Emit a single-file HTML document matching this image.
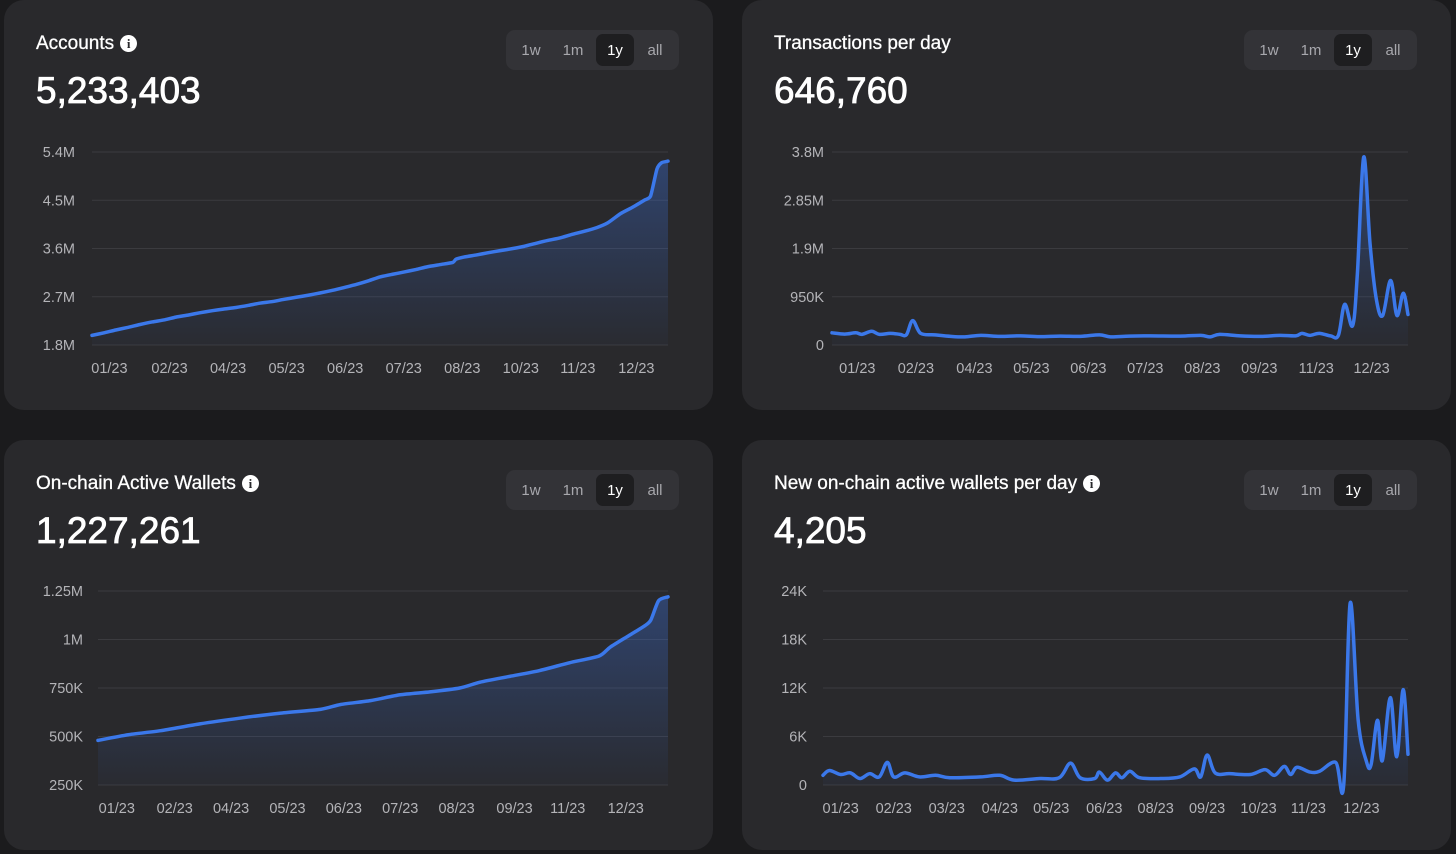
<!DOCTYPE html>
<html><head><meta charset="utf-8"><style>
body{margin:0;width:1456px;height:854px;background:#1b1b1d;font-family:"Liberation Sans",sans-serif;position:relative;overflow:hidden}
.card{position:absolute;width:709px;height:410px;background:#29292c;border-radius:20px}
.title{position:absolute;left:32px;top:33px;color:#fff;font-size:19px;-webkit-text-stroke:0.3px #fff}
.info{display:inline-block;width:17px;height:17px;border-radius:50%;background:#fff;color:#29292c;font-size:13px;font-weight:bold;text-align:center;line-height:17px;vertical-align:1px;margin-left:6px;font-family:"Liberation Serif",serif;-webkit-text-stroke:0}
.big{position:absolute;left:32px;top:70px;color:#fff;font-size:37px;-webkit-text-stroke:0.8px #fff}
.btns{position:absolute;left:502px;top:30px;width:173px;height:40px;background:#333337;border-radius:9px}
.b{position:absolute;top:4px;height:32px;width:38px;line-height:34px;text-align:center;color:#a8a8ad;font-size:15px;border-radius:7px}
.b.on{background:#1e1e20;color:#fff}
svg{position:absolute;left:0;top:0}
</style></head><body>
<div class="card" style="left:4px;top:0">
<div class="title">Accounts<span class="info">i</span></div>
<div class="big">5,233,403</div>
<div class="btns"><div class="b" style="left:6px">1w</div><div class="b" style="left:48px">1m</div><div class="b on" style="left:90px">1y</div><div class="b" style="left:130px">all</div></div>
</div>
<div class="card" style="left:742px;top:0">
<div class="title">Transactions per day</div>
<div class="big">646,760</div>
<div class="btns"><div class="b" style="left:6px">1w</div><div class="b" style="left:48px">1m</div><div class="b on" style="left:90px">1y</div><div class="b" style="left:130px">all</div></div>
</div>
<div class="card" style="left:4px;top:440px">
<div class="title">On-chain Active Wallets<span class="info">i</span></div>
<div class="big">1,227,261</div>
<div class="btns"><div class="b" style="left:6px">1w</div><div class="b" style="left:48px">1m</div><div class="b on" style="left:90px">1y</div><div class="b" style="left:130px">all</div></div>
</div>
<div class="card" style="left:742px;top:440px">
<div class="title">New on-chain active wallets per day<span class="info">i</span></div>
<div class="big">4,205</div>
<div class="btns"><div class="b" style="left:6px">1w</div><div class="b" style="left:48px">1m</div><div class="b on" style="left:90px">1y</div><div class="b" style="left:130px">all</div></div>
</div>
<svg id="s" width="1456" height="854">
<defs><linearGradient id="g" x1="0" y1="0" x2="0" y2="1"><stop offset="0" stop-color="#3b6fd8" stop-opacity="0.38"/><stop offset="1" stop-color="#3b6fd8" stop-opacity="0.03"/></linearGradient></defs>
</svg>
<script>
const monthLabelsA=["01/23","02/23","04/23","05/23","06/23","07/23","08/23","10/23","11/23","12/23"];
const monthDaysA=[11,49,86,123,160,197,234,271,307,344];
const yTicksA=[1.8,2.7,3.6,4.5,5.4];
const yLabelsA=["1.8M","2.7M","3.6M","4.5M","5.4M"];
const daysA=[0,8,15,23,30,38,46,53,61,68,76,83,91,99,106,114,121,129,137,144,152,159,167,175,182,190,197,205,212,220,228,230,235,243,250,258,266,273,281,288,296,303,311,319,326,334,341,349,353,357,360,364];
const valuesA=[1.98,2.03,2.08,2.13,2.18,2.23,2.27,2.32,2.36,2.40,2.44,2.47,2.50,2.54,2.58,2.61,2.65,2.69,2.73,2.77,2.82,2.87,2.93,3.00,3.07,3.12,3.16,3.21,3.26,3.30,3.34,3.40,3.44,3.48,3.52,3.56,3.60,3.64,3.70,3.75,3.80,3.86,3.92,3.99,4.08,4.25,4.36,4.50,4.58,5.08,5.2,5.23];

const monthLabelsB=["01/23","02/23","04/23","05/23","06/23","07/23","08/23","09/23","11/23","12/23"];
const monthDaysB=[16,53,90,126,162,198,234,270,306,341];
const yTicksB=[0,950,1900,2850,3800];
const yLabelsB=["0","950K","1.9M","2.85M","3.8M"];
const daysB=[0,8,15,19,25,30,37,43,47,51,56,65,75,84,94,106,119,131,144,157,169,176,188,201,220,233,239,245,258,271,283,293,297,302,308,315,320,324,329,332,336,340,344,348,353,357,361,364];
const valuesB=[240,215,240,210,270,210,230,210,200,480,230,200,170,160,190,170,180,165,175,170,200,160,175,180,175,190,160,210,180,170,190,180,230,190,230,180,190,800,380,1400,3700,2000,900,580,1270,580,1020,600];

const monthLabelsC=["01/23","02/23","04/23","05/23","06/23","07/23","08/23","09/23","11/23","12/23"];
const monthDaysC=[12,49,85,121,157,193,229,266,300,337];
const yTicksC=[250,500,750,1000,1250];
const yLabelsC=["250K","500K","750K","1M","1.25M"];
const daysC=[0,20,40,65,91,116,142,155,174,193,212,231,244,263,282,301,320,327,339,349,353,358,364];
const valuesC=[480,510,530,565,595,620,640,665,685,715,730,750,780,810,840,880,915,960,1020,1070,1100,1200,1220];

const monthLabelsD=["01/23","02/23","03/23","04/23","05/23","06/23","08/23","09/23","10/23","11/23","12/23"];
const monthDaysD=[11,44,77,110,142,175,207,239,271,302,335];
const yTicksD=[0,6,12,18,24];
const yLabelsD=["0","6K","12K","18K","24K"];
const daysD=[0,4,11,17,23,29,35,40,44,51,60,70,79,98,110,119,135,147,154,160,169,172,177,182,186,191,197,210,222,231,235,239,244,253,266,275,281,287,291,295,303,309,319,324,328,333,338,341,345,348,353,357,361,364];
const valuesD=[1.2,1.8,1.3,1.5,0.8,1.4,1.0,2.8,1.0,1.5,1.0,1.2,0.9,1.0,1.2,0.6,0.8,0.9,2.7,0.9,0.8,1.6,0.6,1.5,0.9,1.7,0.9,0.8,1.0,2.0,1.0,3.7,1.5,1.4,1.3,1.9,1.2,2.3,1.3,2.2,1.6,1.7,2.8,0,22.5,8,3,2.5,8,3,10.8,3.5,11.8,3.8];

const svg=document.getElementById('s');const NS='http://www.w3.org/2000/svg';
function mk(t,a){const e=document.createElementNS(NS,t);for(const k in a)e.setAttribute(k,a[k]);svg.appendChild(e);return e;}
function chart(c){
  const xs=d=>c.x0+(c.x1-c.x0)*d/364;
  const ys=v=>c.yb-(c.yb-c.yt)*(v-c.ticks[0])/(c.ticks[c.ticks.length-1]-c.ticks[0]);
  c.ticks.forEach((t,i)=>{
    const gl=mk('line',{x1:c.x0,x2:c.x1,y1:ys(t),y2:ys(t),stroke:'#3b3b3f','stroke-width':1});
    
    
    const tl=mk('text',{x:c.lx,y:ys(t)+5,'text-anchor':'end',fill:'#b4b4b8','font-size':14.5,'font-family':'Liberation Sans, sans-serif'});
    tl.textContent=c.ylab[i];
    
    
  });
  c.md.forEach((d,i)=>{
    const t=mk('text',{x:xs(d),y:c.yb+28,'text-anchor':'middle',fill:'#b4b4b8','font-size':14.5,'font-family':'Liberation Sans, sans-serif'});
    t.textContent=c.ml[i];
    
    
  });
  const P=c.days.map((d,i)=>[xs(d),ys(c.vals[i])]);
  let p='M'+P[0][0]+','+P[0][1];
  for(let i=0;i<P.length-1;i++){
    const p0=P[Math.max(0,i-1)],p1=P[i],p2=P[i+1],p3=P[Math.min(P.length-1,i+2)];
    if(c.smooth){
      const k=c.smooth;
      p+=' C'+(p1[0]+(p2[0]-p0[0])*k)+','+(p1[1]+(p2[1]-p0[1])*k)+' '+(p2[0]-(p3[0]-p1[0])*k)+','+(p2[1]-(p3[1]-p1[1])*k)+' '+p2[0]+','+p2[1];
    } else p+=' L'+p2[0]+','+p2[1];
  }
  const a=mk('path',{d:p+' L'+P[P.length-1][0]+','+c.yb+' L'+P[0][0]+','+c.yb+' Z',fill:'url(#g)'});
  
  
  const l=mk('path',{d:p,fill:'none',stroke:'#3b78ea','stroke-width':3.5,'stroke-linejoin':'round','stroke-linecap':'round'});
  
  
}
chart({x0:92,x1:668,yt:152,yb:345,lx:75,ticks:yTicksA,ylab:yLabelsA,md:monthDaysA,ml:monthLabelsA,days:daysA,vals:valuesA,smooth:0.1});
chart({x0:832,x1:1408,yt:152,yb:345,lx:824,ticks:yTicksB,ylab:yLabelsB,md:monthDaysB,ml:monthLabelsB,days:daysB,vals:valuesB,smooth:0.17});
chart({x0:98,x1:668,yt:591,yb:785,lx:83,ticks:yTicksC,ylab:yLabelsC,md:monthDaysC,ml:monthLabelsC,days:daysC,vals:valuesC,smooth:0.12});
chart({x0:823,x1:1408,yt:591,yb:785,lx:807,ticks:yTicksD,ylab:yLabelsD,md:monthDaysD,ml:monthLabelsD,days:daysD,vals:valuesD,smooth:0.17});
</script>
</body></html>
